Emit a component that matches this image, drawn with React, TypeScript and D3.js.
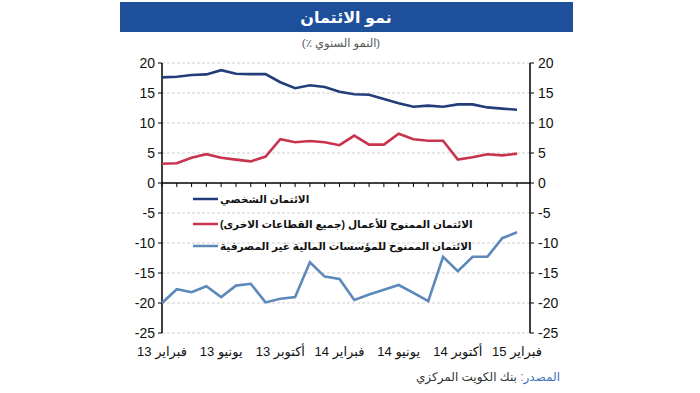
import React from "react";
import * as d3 from "d3";

// months Feb 2013 .. Feb 2015
const months = [
  "فبراير 13", "مارس 13", "أبريل 13", "مايو 13", "يونيو 13", "يوليو 13", "أغسطس 13",
  "سبتمبر 13", "أكتوبر 13", "نوفمبر 13", "ديسمبر 13", "يناير 14", "فبراير 14",
  "مارس 14", "أبريل 14", "مايو 14", "يونيو 14", "يوليو 14", "أغسطس 14", "سبتمبر 14",
  "أكتوبر 14", "نوفمبر 14", "ديسمبر 14", "يناير 15", "فبراير 15",
];
const xLabels = ["فبراير 13", "يونيو 13", "أكتوبر 13", "فبراير 14", "يونيو 14", "أكتوبر 14", "فبراير 15"];

const personal = [
  17.6, 17.7, 18.0, 18.1, 18.8, 18.2, 18.15, 18.15, 16.8, 15.8, 16.3, 16.0, 15.2,
  14.8, 14.7, 14.0, 13.3, 12.7, 12.9, 12.7, 13.1, 13.1, 12.6, 12.4, 12.2,
];
const business = [
  3.2, 3.3, 4.2, 4.8, 4.2, 3.9, 3.6, 4.4, 7.3, 6.8, 7.0, 6.8, 6.3,
  7.9, 6.4, 6.4, 8.2, 7.3, 7.05, 7.05, 3.9, 4.3, 4.8, 4.6, 4.9,
];
const nbfi = [
  -20.0, -17.7, -18.2, -17.2, -19.0, -17.1, -16.8, -19.9, -19.3, -19.0, -13.2, -15.6, -16.0,
  -19.5, -18.6, -17.8, -17.0, -18.3, -19.7, -12.3, -14.7, -12.3, -12.3, -9.2, -8.2,
];
const yTicks = [20, 15, 10, 5, 0, -5, -10, -15, -20, -25];

const seriesNames = [
  "الائتمان الشخصي",
  "الائتمان الممنوح للأعمال (جميع القطاعات الاخرى)",
  "الائتمان الممنوح للمؤسسات المالية غير المصرفية",
];
const colors = ["#233d7b", "#c8334e", "#5c88ba"];

const W = 700;
const H = 393;
const left = 162;
const right = 530;
const top = 63;
const bottom = 333;

const App = () => {
  const x = d3.scalePoint<string>().domain(months).range([left, right - 13]);
  const y = d3.scaleLinear().domain([-25, 20]).range([bottom, top]);

  const line = d3
    .line<number>()
    .x((d, i) => x(months[i]) as number)
    .y((d) => y(d));

  const allSeries = [personal, business, nbfi];
  const font = "Arial, 'Liberation Sans', 'DejaVu Sans', sans-serif";

  return (
    <svg
      width={W}
      height={H}
      style={{ position: "absolute", left: 0, top: 0, background: "#fff" }}
      fontFamily={font}
    >
      {/* title bar */}
      <rect x={120} y={2} width={453} height={30} fill="#1d4f9b" />
      <text x={346} y={23} textAnchor="middle" fill="#fff" fontSize={16} fontWeight="bold">
        نمو الائتمان
      </text>
      <text x={341} y={47} textAnchor="middle" fill="#555" fontSize={11.5} direction="rtl">
        (النمو السنوي ٪)
      </text>

      {/* grid */}
      {yTicks
        .filter((t) => t !== 0)
        .map((t) => (
          <line
            key={t}
            x1={left}
            x2={right}
            y1={y(t)}
            y2={y(t)}
            stroke="#cfcfcf"
            strokeDasharray="3,2"
          />
        ))}

      {/* axes */}
      <line x1={left} x2={left} y1={top} y2={bottom} stroke="#000" strokeWidth={1.5} />
      <line x1={right} x2={right} y1={top} y2={bottom} stroke="#000" strokeWidth={1.5} />
      <line x1={left} x2={right} y1={y(0)} y2={y(0)} stroke="#000" strokeWidth={1.5} />
      {yTicks.map((t) => (
        <g key={t}>
          <line x1={left - 4} x2={left} y1={y(t)} y2={y(t)} stroke="#000" />
          <line x1={right} x2={right + 4} y1={y(t)} y2={y(t)} stroke="#000" />
          <text x={left - 7} y={y(t) + 5} textAnchor="end" fontSize={14} fill="#111">
            {t}
          </text>
          <text x={right + 8} y={y(t) + 5} textAnchor="start" fontSize={14} fill="#111">
            {t}
          </text>
        </g>
      ))}
      {months.map((m) => (
        <line
          key={m}
          x1={x(m)}
          x2={x(m)}
          y1={y(0)}
          y2={y(0) + 4}
          stroke="#000"
        />
      ))}
      {xLabels.map((m) => (
        <text
          key={m}
          x={x(m)}
          y={356}
          textAnchor="middle"
          fontSize={13}
          fill="#111"
          direction="rtl"
        >
          {m}
        </text>
      ))}

      {/* series */}
      {allSeries.map((s, k) => (
        <path key={k} d={line(s) || ""} fill="none" stroke={colors[k]} strokeWidth={2.6} />
      ))}

      {/* legend */}
      {seriesNames.map((n, k) => {
        const ly = [199, 224, 246][k];
        return (
          <g key={n}>
            <line x1={193} x2={218} y1={ly} y2={ly} stroke={colors[k]} strokeWidth={2.5} />
            <text
              x={220}
              y={ly + 4}
              fontSize={10.5}
              fontWeight="bold"
              fill="#111"
              direction="rtl"
              textAnchor="end"
            >
              {n}
            </text>
          </g>
        );
      })}

      {/* source */}
      <text x={560} y={381} fontSize={12} direction="rtl" textAnchor="start" fill="#333">
        <tspan fill="#3f72b4">المصدر:</tspan> بنك الكويت المركزي
      </text>
    </svg>
  );
};

export default App;
